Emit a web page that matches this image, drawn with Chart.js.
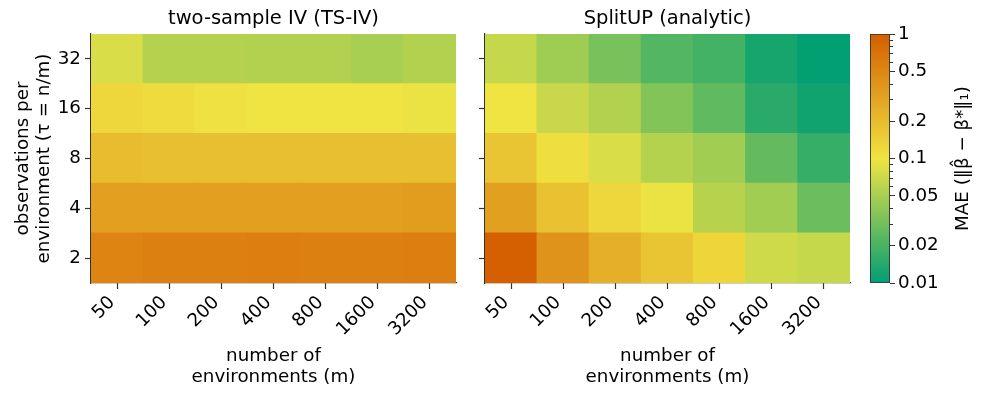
<!DOCTYPE html>
<html lang="en">
<head>
<meta charset="UTF-8">
<title>MAE heatmaps</title>
<script src="https://cdn.jsdelivr.net/npm/chart.js"></script>
<style>
  body { margin: 0; background: #fff; }
  #wrap { position: relative; width: 987px; height: 398px; }
  #wrap canvas { position: absolute; top: 0; }
</style>
</head>
<body>
<div id="wrap">
  <canvas id="tsivChart" width="470" height="398" style="left:0"></canvas>
  <canvas id="splitupChart" width="390" height="398" style="left:470px"></canvas>
  <canvas id="cbarChart" width="127" height="398" style="left:860px"></canvas>
</div>

<script>
// number of environments (columns) and observations per environment (rows, bottom -> top)
const envLabels = ['50', '100', '200', '400', '800', '1600', '3200'];
const obsLabels = ['2', '4', '8', '16', '32'];

// MAE values, one array per row (tau = 2, 4, 8, 16, 32)
const tsivTau2 = [0.52, 0.55, 0.55, 0.57, 0.55, 0.55, 0.57];
const tsivTau4 = [0.33, 0.33, 0.33, 0.33, 0.33, 0.33, 0.34];
const tsivTau8 = [0.2, 0.19, 0.19, 0.19, 0.19, 0.19, 0.19];
const tsivTau16 = [0.125, 0.115, 0.105, 0.1, 0.1, 0.1, 0.095];
const tsivTau32 = [0.08, 0.056, 0.056, 0.055, 0.055, 0.05, 0.055];

const splitTau2 = [0.97, 0.4, 0.25, 0.17, 0.13, 0.072, 0.066];
const splitTau4 = [0.32, 0.18, 0.125, 0.095, 0.058, 0.047, 0.028];
const splitTau8 = [0.17, 0.11, 0.08, 0.056, 0.047, 0.026, 0.017];
const splitTau16 = [0.1, 0.068, 0.055, 0.035, 0.025, 0.015, 0.0117];
const splitTau32 = [0.066, 0.046, 0.032, 0.022, 0.019, 0.0125, 0.0102];

// colorbar ticks
const cbarTicks = [0.01, 0.02, 0.05, 0.1, 0.2, 0.5, 1];
const cbarMinor = [0.03, 0.04, 0.06, 0.07, 0.08, 0.09, 0.3, 0.4, 0.6, 0.7, 0.8, 0.9];

const tsivRows = [tsivTau2, tsivTau4, tsivTau8, tsivTau16, tsivTau32];
const splitRows = [splitTau2, splitTau4, splitTau8, splitTau16, splitTau32];

Chart.defaults.font.family = 'DejaVu Sans';
Chart.defaults.color = '#000';
const FS = 18.3;

// log colormap 0.01 -> 1 : green, yellow, vermillion
const cmap = [[0, 158, 115], [240, 228, 66], [213, 94, 0]];
function maeColor(v) {
    let s = (Math.log10(v) + 2) / 2;
    s = Math.max(0, Math.min(1, s));
    const k = s < 0.5 ? 0 : 1;
    const t = s < 0.5 ? s * 2 : (s - 0.5) * 2;
    const a = cmap[k], b = cmap[k + 1];
    const c = a.map((x, i) => Math.round(x + (b[i] - x) * t));
    return `rgb(${c[0]},${c[1]},${c[2]})`;
}

function heatmap(canvasId, title, rows, showYLabels, yWidth, padRight) {
    const datasets = rows.map((vals, i) => ({
        label: obsLabels[i],
        data: vals.map(() => 1),
        xAxisID: 'x',
        yAxisID: 'y',
        backgroundColor: vals.map(maeColor),
        borderWidth: 0,
        inflateAmount: 0.6,
        barPercentage: 1,
        categoryPercentage: 1
    }));
    new Chart(document.getElementById(canvasId), {
        type: 'bar',
        data: { labels: envLabels, datasets: datasets },
        options: {
            responsive: false,
            animation: false,
            layout: { padding: { left: 0, right: padRight, top: 0, bottom: 0 } },
            plugins: {
                legend: { display: false },
                tooltip: { enabled: false }
            },
            scales: {
                x: {
                    stacked: true,
                    z: 1,
                    grid: { offset: false, drawOnChartArea: false, tickLength: 6, tickColor: '#333', tickWidth: 1.2 },
                    border: { display: true, color: '#333', width: 1.2 },
                    ticks: { font: { size: FS }, minRotation: 45, maxRotation: 45, padding: 3, labelOffset: -5 },
                    title: {
                        display: true,
                        text: ['number of', 'environments (m)'],
                        font: { size: FS, lineHeight: 1.15 },
                        padding: { top: 0, bottom: 10.5 }
                    },
                    afterFit: (scale) => { scale.height = 115; }
                },
                y: {
                    stacked: true,
                    min: 0,
                    max: 5,
                    z: 1,
                    grid: { drawOnChartArea: false, tickLength: 6, tickColor: '#333', tickWidth: 1.2 },
                    border: { display: true, color: '#333', width: 1.2 },
                    afterBuildTicks: (scale) => {
                        scale.ticks = obsLabels.map((_, i) => ({ value: i + 0.5 }));
                    },
                    ticks: {
                        font: { size: FS },
                        padding: 4,
                        callback: (v) => showYLabels ? obsLabels[Math.floor(v)] : ''
                    },
                    title: {
                        display: showYLabels,
                        text: ['observations per', 'environment (τ = n/m)'],
                        font: { size: FS, lineHeight: 1.15 },
                        padding: { top: 12.5, bottom: 0 }
                    },
                    afterFit: (scale) => { scale.width = yWidth; }
                },
                // top axis only carries the panel title, so it is centred over the plot
                top: {
                    type: 'category',
                    position: 'top',
                    grid: { display: false },
                    border: { display: false },
                    ticks: { display: false },
                    title: {
                        display: true,
                        text: title,
                        font: { size: 19.5, lineHeight: 1.2 },
                        padding: { top: 7.3, bottom: 0 }
                    },
                    afterFit: (scale) => { scale.height = 34; }
                }
            }
        }
    });
}

heatmap('tsivChart', 'two-sample IV (TS-IV)', tsivRows, true, 91, 14);
heatmap('splitupChart', 'SplitUP (analytic)', splitRows, false, 15, 10);

// colorbar: minor ticks and rotated label
const cbarExtras = {
    id: 'cbarExtras',
    afterDraw(chart) {
        const ctx = chart.ctx;
        const y = chart.scales.y;
        const x0 = chart.chartArea.right;
        ctx.save();
        ctx.strokeStyle = '#333';
        ctx.lineWidth = 1;
        cbarMinor.forEach(v => {
            const py = Math.round(y.getPixelForValue(v)) + 0.5;
            ctx.beginPath();
            ctx.moveTo(x0, py);
            ctx.lineTo(x0 + 3, py);
            ctx.stroke();
        });
        ctx.translate(103, (chart.chartArea.top + chart.chartArea.bottom) / 2);
        ctx.rotate(-Math.PI / 2);
        ctx.fillStyle = '#000';
        ctx.font = FS + 'px "DejaVu Sans"';
        ctx.textAlign = 'center';
        ctx.textBaseline = 'middle';
        ctx.fillText('MAE (‖β\u0302 − β*‖\u2081)', 0, 0);
        ctx.restore();
    }
};

new Chart(document.getElementById('cbarChart'), {
    type: 'bar',
    data: {
        labels: ['MAE'],
        datasets: [{
            data: [[cbarTicks[0], cbarTicks[cbarTicks.length - 1]]],
            backgroundColor: (c) => {
                const area = c.chart.chartArea;
                if (!area) return '#ccc';
                const g = c.chart.ctx.createLinearGradient(0, area.bottom, 0, area.top);
                for (let i = 0; i <= 20; i++) {
                    const v = Math.pow(10, -2 + i / 10);
                    g.addColorStop(i / 20, maeColor(v));
                }
                return g;
            },
            borderColor: '#333',
            borderWidth: 1.2,
            borderSkipped: false,
            barPercentage: 1,
            categoryPercentage: 1
        }]
    },
    options: {
        responsive: false,
        animation: false,
        layout: { padding: { left: 10, right: 0, top: 34, bottom: 115 } },
        plugins: { legend: { display: false }, tooltip: { enabled: false } },
        scales: {
            x: { display: false },
            y: {
                type: 'logarithmic',
                position: 'right',
                min: 0.01,
                max: 1,
                grid: { drawOnChartArea: false, tickLength: 5, tickColor: '#333' },
                border: { display: false },
                afterBuildTicks: (scale) => {
                    scale.ticks = cbarTicks.map(v => ({ value: v }));
                },
                ticks: { font: { size: FS }, padding: 3, callback: (v) => String(v) },
                afterFit: (scale) => { scale.width = 97; }
            }
        }
    },
    plugins: [cbarExtras]
});
</script>
</body>
</html>
